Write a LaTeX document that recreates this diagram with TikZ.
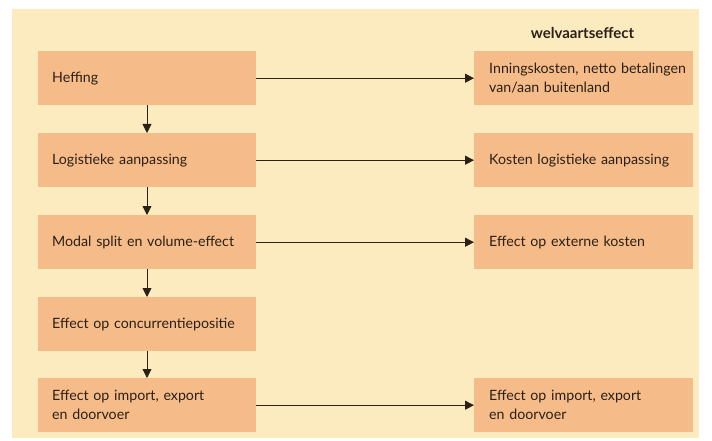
\documentclass[tikz,border=0pt]{standalone}
\usepackage{fontspec}
\setmainfont{Lato}
\usetikzlibrary{arrows.meta}
\definecolor{cream}{HTML}{FDEBC0}
\definecolor{boxfill}{HTML}{F5BB88}
\definecolor{ink}{HTML}{2A2016}
\tikzset{
  stage/.style={draw=none, fill=boxfill, text=ink, minimum height=54pt, inner xsep=14pt, inner ysep=0pt,
    text width=190pt, align=left, font=\fontsize{14.2}{19}\selectfont, anchor=north west},
  effbox/.style={stage, text width=189pt, inner xsep=15pt},
  flow/.style={draw=ink, line width=0.9pt, -{Triangle[length=9pt,width=9pt]}}
}
\begin{document}
\begin{tikzpicture}[x=1pt,y=-1pt]
\useasboundingbox (0,0) rectangle (712,441);
\fill[white] (0,0) rectangle (712,441);
\fill[cream] (12,9) rectangle (699,438);
\node[text=ink, font=\fontsize{15}{18}\selectfont\bfseries] (hdr) at (582.5,33) {welvaartseffect};
\node[stage] (l1) at (38,51) {Heffing};
\node[stage] (l2) at (38,133) {Logistieke aanpassing};
\node[stage] (l3) at (38,215) {Modal split en volume-effect};
\node[stage] (l4) at (38,297) {Effect op concurrentiepositie};
\node[stage] (l5) at (38,378) {Effect op import, export\\en doorvoer};
\node[effbox] (r1) at (474,51) {\mbox{Inningskosten, netto betalingen}\\van/aan buitenland};
\node[effbox] (r2) at (474,133) {Kosten logistieke aanpassing};
\node[effbox] (r3) at (474,215) {Effect op externe kosten};
\node[effbox] (r5) at (474,378) {Effect op import, export\\en doorvoer};
\draw[flow] (l1.east) -- (r1.west);
\draw[flow] (l2.east) -- (r2.west);
\draw[flow] (l3.east) -- (r3.west);
\draw[flow] (l5.east) -- (r5.west);
\draw[flow] (l1.south -| 147,0) -- (l2.north -| 147,0);
\draw[flow] (l2.south -| 147,0) -- (l3.north -| 147,0);
\draw[flow] (l3.south -| 147,0) -- (l4.north -| 147,0);
\draw[flow] (l4.south -| 147,0) -- (l5.north -| 147,0);
\end{tikzpicture}
\end{document}
